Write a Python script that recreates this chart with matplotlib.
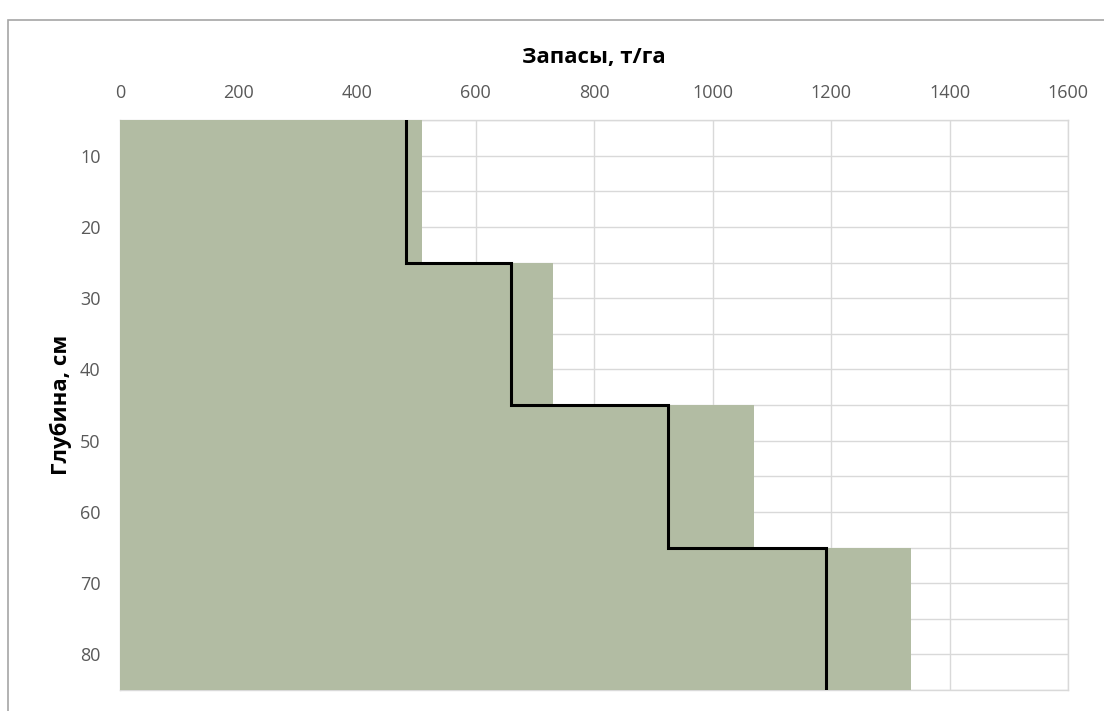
import numpy as np
import matplotlib
matplotlib.use("Agg")
import matplotlib.pyplot as plt
from matplotlib.patches import Rectangle

# Data
depth_bounds = [5, 25, 45, 65, 85]          # cm
reserves_fill = [510, 730, 1070, 1335]      # t/ha (area)
reserves_line = [483, 660, 925, 1192]       # t/ha (step line)
x_ticks = [0, 200, 400, 600, 800, 1000, 1200, 1400, 1600]
y_ticks = [10, 20, 30, 40, 50, 60, 70, 80]
x_title = "Запасы, т/га"
y_title = "Глубина, см"

plt.rcParams['font.family'] = ['Open Sans', 'DejaVu Sans']

W, H = 1104, 711
fig = plt.figure(figsize=(W / 100, H / 100), dpi=100)
fig.patch.set_facecolor('white')

# outer chart frame
fig.add_artist(Rectangle((8 / W, -0.05), 1.2, 1 - 20 / H + 0.05, transform=fig.transFigure,
                         fill=False, edgecolor='#a6a6a6', linewidth=1.2))

ax = fig.add_axes([120 / W, 1 - 690 / H, (1068 - 120) / W, (690 - 120) / H])

grid_c = '#d9d9d9'
bottoms = depth_bounds[:-1]
heights = np.diff(depth_bounds)
ax.barh(bottoms, reserves_fill, height=heights, align='edge',
        color='#b2bca3', edgecolor='none', zorder=2)

ys = np.repeat(depth_bounds, 2)[1:-1]
xs = np.repeat(reserves_line, 2)
ax.plot(xs, ys, color='black', linewidth=2.2, zorder=3, solid_joinstyle='miter')

ax.set_xlim(0, 1600)
ax.set_ylim(85, 5)
ax.xaxis.tick_top()
ax.xaxis.set_label_position('top')
ax.set_xticks(x_ticks)
ax.set_yticks(y_ticks)
ax.set_yticks(np.arange(5, 86, 5), minor=True)
ax.grid(True, which='major', color=grid_c, linewidth=1.0, zorder=0)
ax.grid(True, which='minor', axis='y', color=grid_c, linewidth=1.0, zorder=0)
ax.set_axisbelow(True)
ax.tick_params(which='both', length=0, labelsize=13, labelcolor='#595959')
ax.tick_params(axis='x', pad=13)
ax.tick_params(axis='y', pad=14)
for s in ax.spines.values():
    s.set_color(grid_c)
    s.set_linewidth(1.0)
    s.set_zorder(1)

ax.set_xlabel(x_title, fontsize=16, fontweight='bold', labelpad=15, color='black')
ax.set_ylabel(y_title, fontsize=16, fontweight='bold', labelpad=6, color='black')

fig.savefig('out.png', dpi=100, facecolor='white')
